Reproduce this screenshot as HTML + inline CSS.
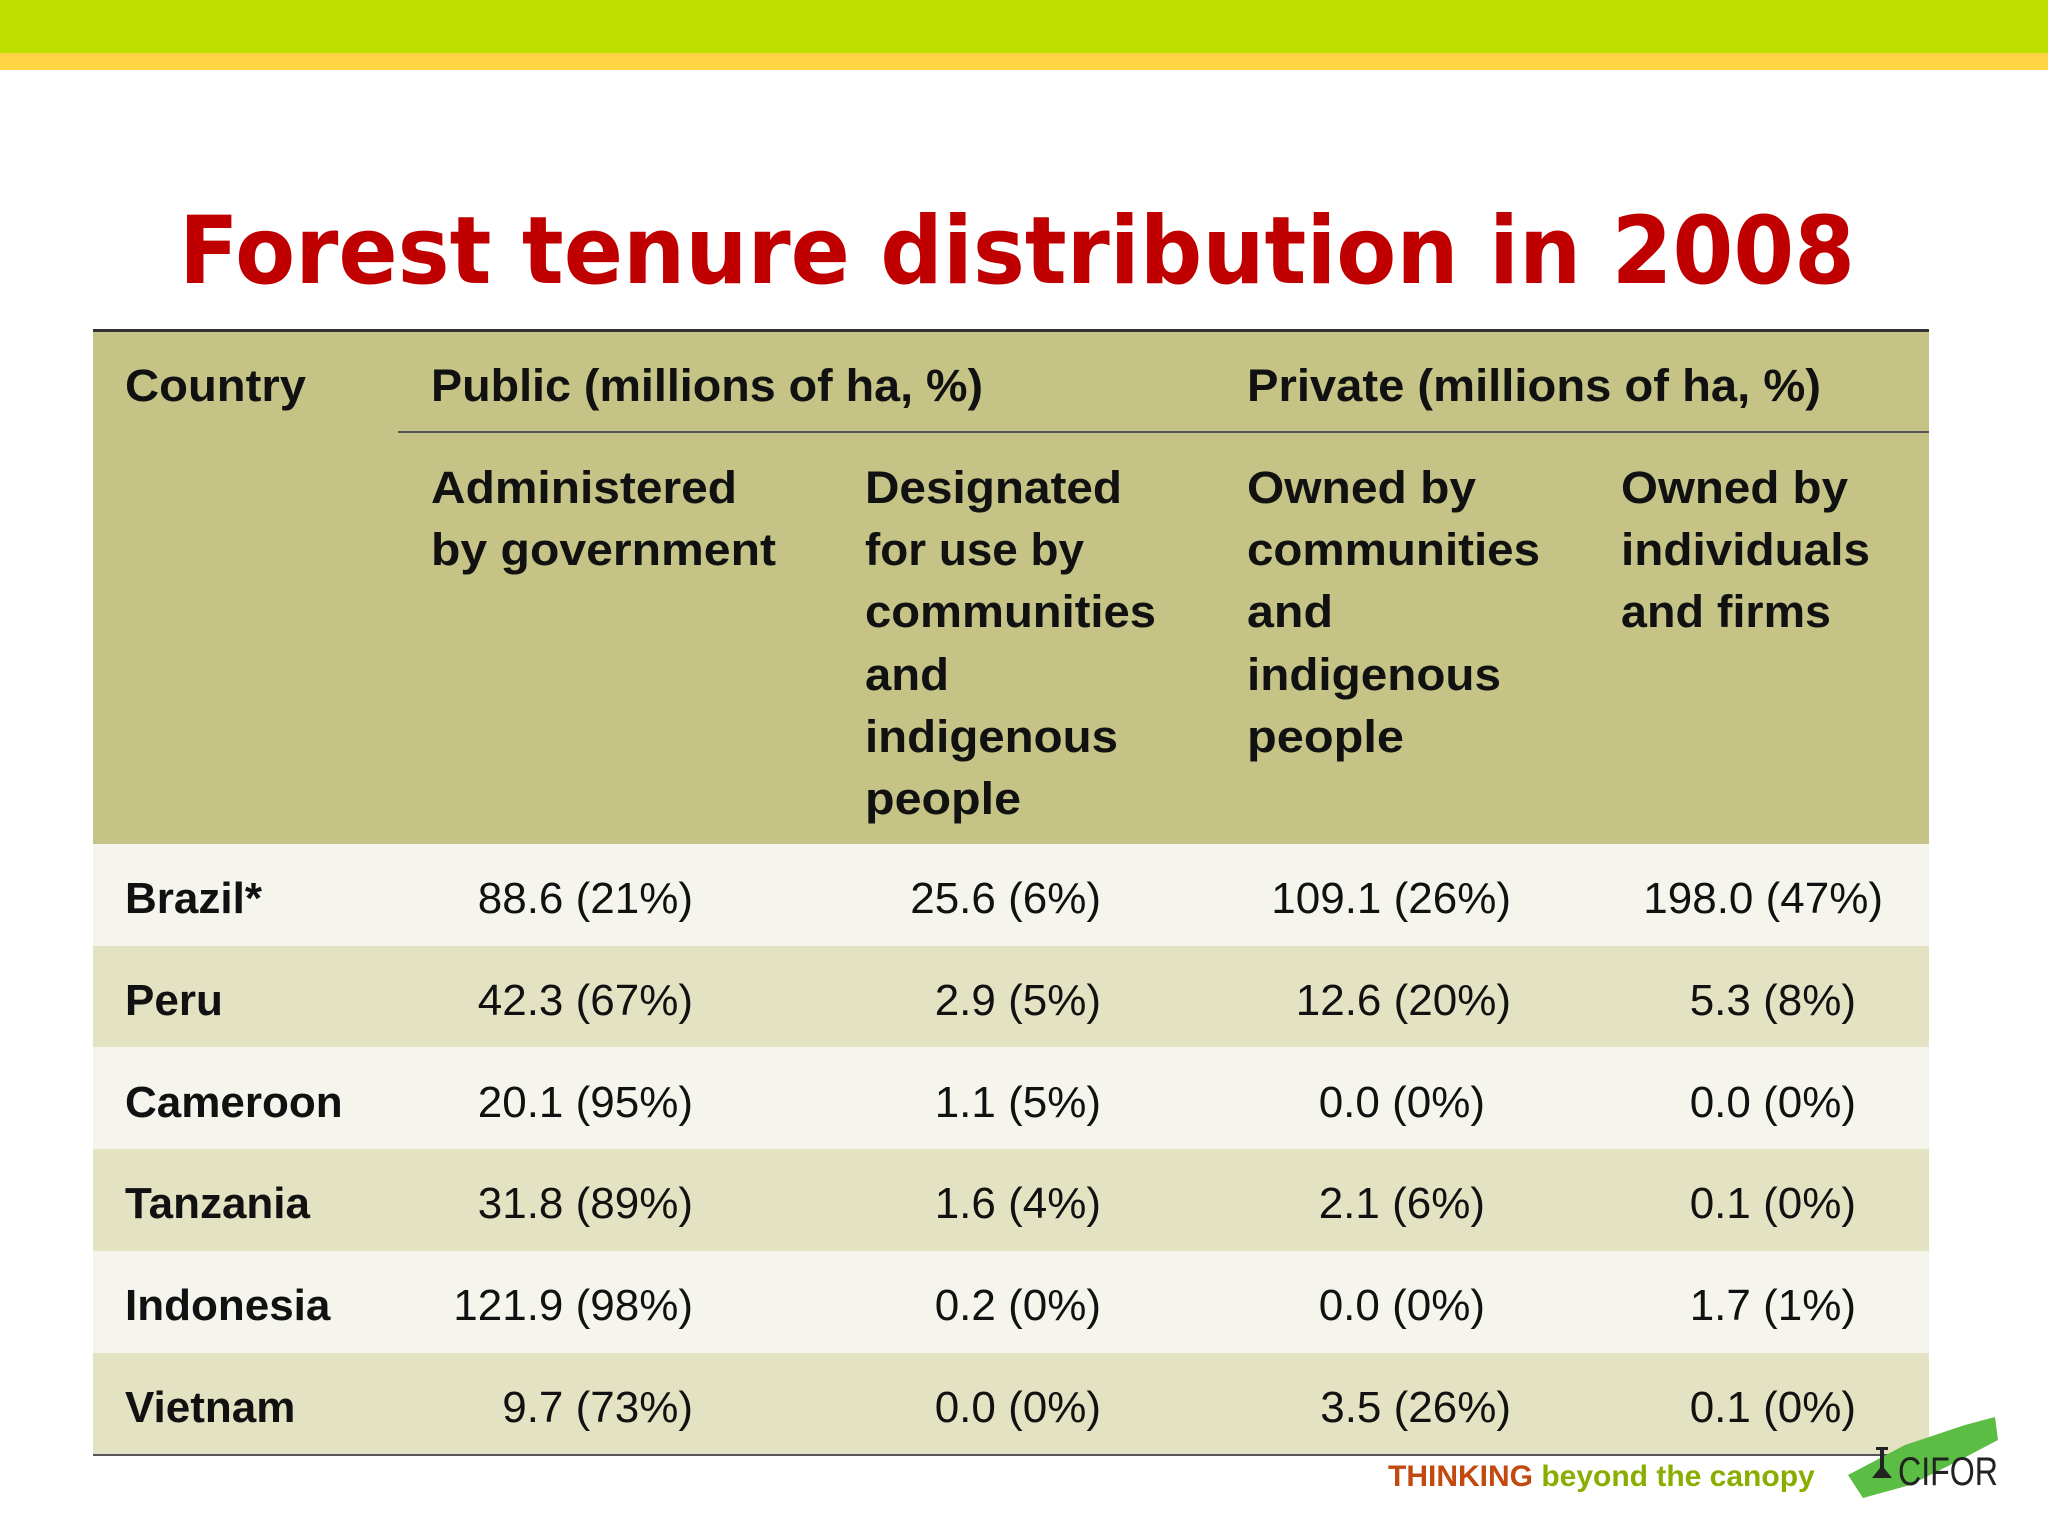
<!DOCTYPE html>
<html><head><meta charset="utf-8"><style>
html,body{margin:0;padding:0;background:#fff;}
svg{display:block;}
</style></head><body>
<svg width="2048" height="1536" viewBox="0 0 2048 1536" xmlns="http://www.w3.org/2000/svg">
<rect x="0" y="0" width="2048" height="53" fill="#bcdf00"/>
<rect x="0" y="53" width="2048" height="17" fill="#ffd444"/>
<text x="179" y="283" font-family="DejaVu Sans, sans-serif" font-weight="bold" font-size="94" fill="#c00000" textLength="1676" lengthAdjust="spacingAndGlyphs">Forest tenure distribution in 2008</text>

<g>
<rect x="93" y="330" width="1836" height="514" fill="#c5c486"/>
<rect x="93" y="844" width="1836" height="102" fill="#f5f5ee"/>
<rect x="93" y="946" width="1836" height="101" fill="#e3e3c3"/>
<rect x="93" y="1047" width="1836" height="102" fill="#f5f5ee"/>
<rect x="93" y="1149" width="1836" height="102" fill="#e3e3c3"/>
<rect x="93" y="1251" width="1836" height="102" fill="#f5f5ee"/>
<rect x="93" y="1353" width="1836" height="102" fill="#e3e3c3"/>
<rect x="93" y="329" width="1836" height="3" fill="#333"/>
<rect x="398" y="431" width="1531" height="2" fill="#555"/>
<rect x="93" y="1454" width="1836" height="2" fill="#555"/>

<g font-family="Liberation Sans, sans-serif" font-weight="bold" font-size="45" fill="#111">
<text x="125" y="401" textLength="181" lengthAdjust="spacingAndGlyphs">Country</text>
<text x="431" y="401" textLength="552" lengthAdjust="spacingAndGlyphs">Public (millions of ha, %)</text>
<text x="1247" y="401" textLength="574" lengthAdjust="spacingAndGlyphs">Private (millions of ha, %)</text>
<g>
<text x="431" y="503" textLength="306" lengthAdjust="spacingAndGlyphs">Administered</text>
<text x="431" y="565" textLength="345" lengthAdjust="spacingAndGlyphs">by government</text>
</g>
<g>
<text x="865" y="503" textLength="257" lengthAdjust="spacingAndGlyphs">Designated</text>
<text x="865" y="565" textLength="219" lengthAdjust="spacingAndGlyphs">for use by</text>
<text x="865" y="627" textLength="291" lengthAdjust="spacingAndGlyphs">communities</text>
<text x="865" y="690" textLength="84" lengthAdjust="spacingAndGlyphs">and</text>
<text x="865" y="752" textLength="253" lengthAdjust="spacingAndGlyphs">indigenous</text>
<text x="865" y="814" textLength="156" lengthAdjust="spacingAndGlyphs">people</text>
</g>
<g>
<text x="1247" y="503" textLength="229" lengthAdjust="spacingAndGlyphs">Owned by</text>
<text x="1247" y="565" textLength="293" lengthAdjust="spacingAndGlyphs">communities</text>
<text x="1247" y="627" textLength="86" lengthAdjust="spacingAndGlyphs">and</text>
<text x="1247" y="690" textLength="254" lengthAdjust="spacingAndGlyphs">indigenous</text>
<text x="1247" y="752" textLength="157" lengthAdjust="spacingAndGlyphs">people</text>
</g>
<g>
<text x="1621" y="503" textLength="227" lengthAdjust="spacingAndGlyphs">Owned by</text>
<text x="1621" y="565" textLength="249" lengthAdjust="spacingAndGlyphs">individuals</text>
<text x="1621" y="627" textLength="210" lengthAdjust="spacingAndGlyphs">and firms</text>
</g>
</g>

<g font-family="Liberation Sans, sans-serif" font-size="44" fill="#111">
<g font-weight="bold">
<text x="125" y="913">Brazil*</text>
<text x="125" y="1015">Peru</text>
<text x="125" y="1117">Cameroon</text>
<text x="125" y="1218">Tanzania</text>
<text x="125" y="1320">Indonesia</text>
<text x="125" y="1422">Vietnam</text>
</g>
<g text-anchor="end">
<text x="693" y="913">88.6 (21%)</text>
<text x="693" y="1015">42.3 (67%)</text>
<text x="693" y="1117">20.1 (95%)</text>
<text x="693" y="1218">31.8 (89%)</text>
<text x="693" y="1320">121.9 (98%)</text>
<text x="693" y="1422">9.7 (73%)</text>
</g>
<g text-anchor="end">
<text x="1101" y="913">25.6 (6%)</text>
<text x="1101" y="1015">2.9 (5%)</text>
<text x="1101" y="1117">1.1 (5%)</text>
<text x="1101" y="1218">1.6 (4%)</text>
<text x="1101" y="1320">0.2 (0%)</text>
<text x="1101" y="1422">0.0 (0%)</text>
</g>
<g text-anchor="end">
<text x="1511" y="913">109.1 (26%)</text>
<text x="1511" y="1015">12.6 (20%)</text>
<text x="1485" y="1117">0.0 (0%)</text>
<text x="1485" y="1218">2.1 (6%)</text>
<text x="1485" y="1320">0.0 (0%)</text>
<text x="1511" y="1422">3.5 (26%)</text>
</g>
<g text-anchor="end">
<text x="1883" y="913">198.0 (47%)</text>
<text x="1856" y="1015">5.3 (8%)</text>
<text x="1856" y="1117">0.0 (0%)</text>
<text x="1856" y="1218">0.1 (0%)</text>
<text x="1856" y="1320">1.7 (1%)</text>
<text x="1856" y="1422">0.1 (0%)</text>
</g>
</g>
</g>

<g>
<text x="1388" y="1486" font-family="Liberation Sans, sans-serif" font-weight="bold" font-size="30"><tspan fill="#c24a10">THINKING</tspan><tspan fill="#8aae00"> beyond the canopy</tspan></text>
</g>
<g>
<polygon points="1848,1475 1905,1445 1965,1425 1995,1417 1998,1440 1960,1460 1910,1485 1863,1498" fill="#5cbd44"/>
<path d="M1872,1478 L1880,1468 L1880,1450 L1876,1450 L1876,1447 L1888,1447 L1888,1450 L1884,1450 L1884,1468 L1892,1478 Z" fill="#222"/>
<text x="1898" y="1485" font-family="Liberation Sans, sans-serif" font-size="40" fill="#222" textLength="100" lengthAdjust="spacingAndGlyphs">CIFOR</text>
</g>
</svg>
</body></html>
